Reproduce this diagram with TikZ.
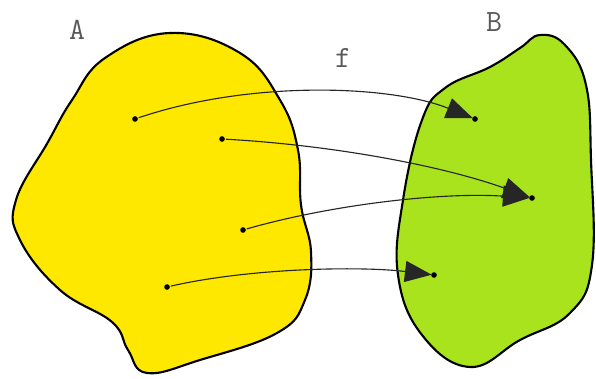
\documentclass[tikz,border=0pt]{standalone}
\usetikzlibrary{arrows.meta}
\definecolor{cyellow}{HTML}{FFE800}
\definecolor{cgreen}{HTML}{A8E31E}
\tikzset{
  every picture/.style={line width=1.4pt},
  blob/.style={draw=black, fill=#1, line width=1.5pt},
  dot/.style={circle, fill=black, inner sep=0pt, minimum size=4pt},
  map/.style={-{Triangle[length=19pt, width=15pt]}, draw=black!85, line width=0.8pt, shorten >=-1pt},
  setname/.style={font=\ttfamily\fontsize{22}{24}\selectfont, text=black!65},
}

\begin{document}
\begin{tikzpicture}[x=0.025cm, y=-0.025cm]
  \useasboundingbox (0,0) rectangle (596,379);
  % set A
  \draw[blob=cyellow] plot[smooth cycle, tension=0.7] coordinates {
    (170,33) (240,53) (280,100) (298,150) (301,205) (311,252) (305,300)
    (277,333) (200,360) (147,373) (128,350) (112,322) (60,290) (20,240)
    (16,200) (48,142) (72,100) (105,58)};
  % set B
  \draw[blob=cgreen] plot[smooth cycle, tension=0.7] coordinates {
    (540,35) (565,45) (586,85) (591,160) (592,265) (570,313) (520,340)
    (470,367) (422,335) (398,275) (403,200) (422,120) (445,88) (490,67)
    (520,48)};
  \node[setname] (lA) at (77,30) {A};
  \node[setname] (lB) at (494,22) {B};
  \node[setname] (lf) at (343,58) {f};
  % points of A
  \node[dot] (a1) at (135,119) {};
  \node[dot] (a2) at (222,139) {};
  \node[dot] (a3) at (243,230) {};
  \node[dot] (a4) at (167,287) {};
  % points of B
  \node[dot] (b1) at (475,119) {};
  \node[dot] (b2) at (532,198) {};
  \node[dot] (b3) at (434,275) {};
  % the mapping
  \draw[map] (a1) .. controls (250,80) and (390,85) .. (b1);
  \draw[map] (a2) .. controls (330,145) and (440,165) .. (b2);
  \draw[map] (a3) .. controls (330,205) and (440,192) .. (b2);
  \draw[map] (a4) .. controls (250,268) and (360,266) .. (b3);
\end{tikzpicture}
\end{document}
